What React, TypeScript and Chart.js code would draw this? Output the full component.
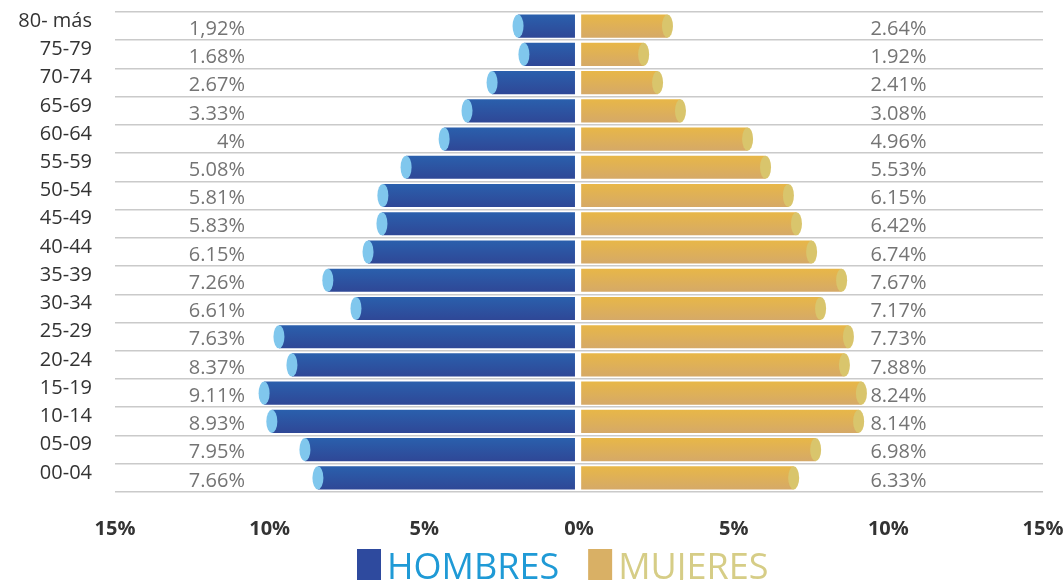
import React, { useEffect, useRef } from "react";
import { Chart, registerables } from "chart.js";

Chart.register(...registerables);

const categorias = [
  "80- más", "75-79", "70-74", "65-69", "60-64", "55-59", "50-54", "45-49", "40-44",
  "35-39", "30-34", "25-29", "20-24", "15-19", "10-14", "05-09", "00-04",
];

const hombresEtiquetas = [
  "1,92%", "1.68%", "2.67%", "3.33%", "4%", "5.08%", "5.81%", "5.83%", "6.15%",
  "7.26%", "6.61%", "7.63%", "8.37%", "9.11%", "8.93%", "7.95%", "7.66%",
];

const mujeresEtiquetas = [
  "2.64%", "1.92%", "2.41%", "3.08%", "4.96%", "5.53%", "6.15%", "6.42%", "6.74%",
  "7.67%", "7.17%", "7.73%", "7.88%", "8.24%", "8.14%", "6.98%", "6.33%",
];

// bar lengths as drawn in the picture (axis units, %)
const hombresBarra = [
  1.97, 1.78, 2.81, 3.62, 4.36, 5.59, 6.34, 6.37, 6.82,
  8.12, 7.21, 9.7, 9.28, 10.18, 9.93, 8.86, 8.44,
];

const mujeresBarra = [
  2.86, 2.09, 2.54, 3.28, 5.45, 6.03, 6.77, 7.03, 7.52,
  8.49, 7.81, 8.71, 8.58, 9.13, 9.04, 7.65, 6.94,
];

const ejeMin = -15;
const ejeMax = 15;
const ejePaso = 5;

const FONT = "'Open Sans', sans-serif";
const BLUE_TOP = "#2a60ad";
const BLUE_BOTTOM = "#2f4796";
const BLUE_CAP = "#80c7ed";
const GOLD_TOP = "#e8b747";
const GOLD_BOTTOM = "#d5a968";
const GOLD_CAP = "#d9c56c";

function gradient(top: string, bottom: string) {
  return (ctx: any) => {
    const chart = ctx.chart;
    const ys = chart.scales && chart.scales.y;
    if (!ys || ctx.dataIndex === undefined || !chart.chartArea) return top;
    const yc = ys.getPixelForValue(ctx.dataIndex);
    const g = chart.ctx.createLinearGradient(0, yc - 12, 0, yc + 12);
    g.addColorStop(0, top);
    g.addColorStop(1, bottom);
    return g;
  };
}

const capsPlugin = {
  id: "caps",
  afterDatasetsDraw(chart: any) {
    const c = chart.ctx;
    const colors = [BLUE_CAP, GOLD_CAP];
    chart.data.datasets.forEach((_: any, di: number) => {
      const meta = chart.getDatasetMeta(di);
      meta.data.forEach((el: any) => {
        c.save();
        c.fillStyle = colors[di];
        c.beginPath();
        c.ellipse(el.x, el.y, 5.5, el.height / 2, 0, 0, Math.PI * 2);
        c.fill();
        c.restore();
      });
    });
  },
};

const valuesPlugin = {
  id: "values",
  afterDatasetsDraw(chart: any) {
    const c = chart.ctx;
    const xs = chart.scales.x;
    const ys = chart.scales.y;
    c.save();
    c.font = `20px ${FONT}`;
    c.fillStyle = "#747474";
    c.textBaseline = "middle";
    categorias.forEach((_, i) => {
      const y = ys.getPixelForValue(i) + 3;
      c.textAlign = "right";
      c.fillText(hombresEtiquetas[i], xs.getPixelForValue(-10.8), y);
      c.textAlign = "left";
      c.fillText(mujeresEtiquetas[i], xs.getPixelForValue(9.42), y);
    });
    c.restore();
  },
};

const legendPlugin = {
  id: "customLegend",
  afterDraw(chart: any) {
    const c = chart.ctx;
    const items = [
      { label: chart.data.datasets[0].label, box: "#2e4a9e", text: "#1f9ad6" },
      { label: chart.data.datasets[1].label, box: "#d9b065", text: "#d6cd86" },
    ];
    c.save();
    c.font = `36px ${FONT}`;
    c.textBaseline = "alphabetic";
    c.textAlign = "left";
    let x = 357;
    items.forEach((it) => {
      c.fillStyle = it.box;
      c.fillRect(x, 549, 24, 31);
      x += 24 + 6;
      c.fillStyle = it.text;
      c.fillText(it.label, x, 579);
      x += c.measureText(it.label).width + 29;
    });
    c.restore();
  },
};

export default function App() {
  const ref = useRef<HTMLCanvasElement | null>(null);

  useEffect(() => {
    document.body.style.margin = "0";
    if (!ref.current) return;
    const chart = new Chart(ref.current, {
      type: "bar",
      data: {
        labels: categorias,
        datasets: [
          {
            label: "HOMBRES",
            data: hombresBarra.map((v) => [-0.13, -v]) as any,
            backgroundColor: gradient(BLUE_TOP, BLUE_BOTTOM) as any,
            borderWidth: 0,
            grouped: false,
            categoryPercentage: 1,
            barPercentage: 0.82,
          } as any,
          {
            label: "MUJERES",
            data: mujeresBarra.map((v) => [0.07, v]) as any,
            backgroundColor: gradient(GOLD_TOP, GOLD_BOTTOM) as any,
            borderWidth: 0,
            grouped: false,
            categoryPercentage: 1,
            barPercentage: 0.82,
          } as any,
        ],
      },
      options: {
        indexAxis: "y",
        animation: false,
        responsive: false,
        layout: { padding: { top: 12, right: 0, left: 0, bottom: 0 } },
        plugins: {
          legend: { display: false },
          tooltip: { enabled: false },
        },
        scales: {
          x: {
            type: "linear",
            min: ejeMin,
            max: ejeMax,
            grid: { display: false },
            border: { display: false },
            ticks: {
              stepSize: ejePaso,
              padding: 17,
              maxRotation: 0,
              color: "#333333",
              font: { family: FONT, size: 20, weight: "bold" },
              callback: (v: any) => Math.abs(Number(v)) + "%",
            },
            afterFit: (s: any) => {
              s.height = 88;
              s.paddingLeft = 0;
              s.paddingRight = 20;
            },
          },
          y: {
            type: "category",
            offset: true,
            grid: {
              display: true,
              offset: true,
              color: "#cacaca",
              lineWidth: 1.6,
              drawTicks: false,
            },
            border: { display: false },
            ticks: {
              autoSkip: false,
              padding: 23,
              labelOffset: -5,
              color: "#333333",
              font: { family: FONT, size: 20 },
            },
            afterFit: (s: any) => {
              s.width = 115;
              s.paddingTop = 0;
              s.paddingBottom = 0;
            },
          },
        },
      } as any,
      plugins: [capsPlugin, valuesPlugin, legendPlugin],
    });
    return () => chart.destroy();
  }, []);

  return (
    <div style={{ width: 1063, height: 580, background: "#ffffff" }}>
      <canvas ref={ref} width={1063} height={580} />
    </div>
  );
}
